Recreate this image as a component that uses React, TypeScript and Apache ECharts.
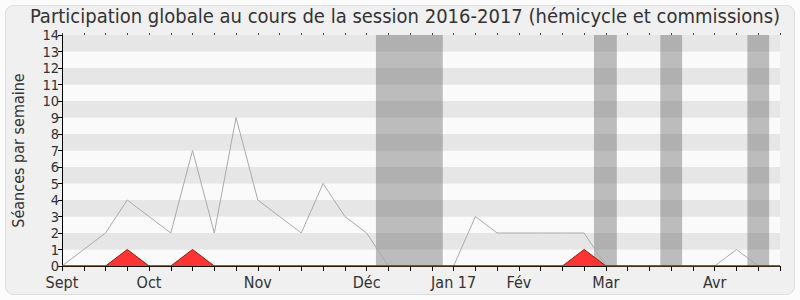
import React, { useEffect, useRef } from "react";
import * as echarts from "echarts";

const weeks: number[] = Array.from({ length: 34 }, (_, i) => i);
const participation: number[] = [0, 1, 2, 4, 3, 2, 7, 2, 9, 4, 3, 2, 5, 3, 2, 0, 0, 0, 0, 3, 2, 2, 2, 2, 2, 0, 0, 0, 0, 0, 0, 1, 0, 0];
const presenceRed: number[] = [0, 0, 0, 1, 0, 0, 1, 0, 0, 0, 0, 0, 0, 0, 0, 0, 0, 0, 0, 0, 0, 0, 0, 0, 1, 0, 0, 0, 0, 0, 0, 0, 0, 0];
const presenceGreen: number[] = weeks.map(() => 0);
const monthLabels: Record<number, string> = { 0: "Sept", 4: "Oct", 9: "Nov", 14: "Déc", 18: "Jan 17", 21: "Fév", 25: "Mar", 30: "Avr" };
const vacations: [number, number][] = [[14.43, 17.5], [24.45, 25.5], [27.5, 28.5], [31.5, 32.5]];
const yTicks: number[] = [0, 14];

const FONT = "'DejaVu Sans Condensed', 'DejaVu Sans', sans-serif";

export default function App() {
  const ref = useRef<HTMLDivElement>(null);
  useEffect(() => {
    if (!ref.current) return;
    const chart = echarts.init(ref.current, undefined, { renderer: "svg" });
    const pairs = (arr: number[]) => weeks.map((w, i) => [w, arr[i]]);
    chart.setOption({
      animation: false,
      backgroundColor: "#fcfcfc",
      graphic: [
        {
          type: "rect",
          z: -10,
          shape: { x: 5.5, y: 5.5, width: 789, height: 289, r: 8 },
          style: { fill: "#f0f0f0", stroke: "#dedede", lineWidth: 1 },
          silent: true,
        },
      ],
      title: {
        text: "Participation globale au cours de la session 2016-2017 (hémicycle et commissions)",
        left: 405,
        textAlign: "center",
        top: 6,
        padding: 0,
        textStyle: { fontFamily: FONT, fontSize: 20, lineHeight: 20, fontWeight: "normal", color: "#333" },
      },
      grid: { left: 62, right: 20, top: 35, bottom: 34 },
      xAxis: [
        {
          type: "value",
          min: 0,
          max: 33,
          interval: 1,
          axisLine: { show: true, lineStyle: { color: "#000", width: 1 } },
          axisTick: { show: true, length: 5, lineStyle: { color: "#000" } },
          splitLine: { show: false },
          axisLabel: {
            show: true,
            margin: 8,
            hideOverlap: false,
            fontFamily: FONT,
            fontSize: 16,
            lineHeight: 16,
            color: "#333",
            formatter: (v: number) => monthLabels[v] ?? "",
          },
        },
        {
          type: "value",
          position: "top",
          min: 0,
          max: 33,
          interval: 1,
          axisLine: { show: false },
          axisTick: { show: true, length: 2, lineStyle: { color: "#444" } },
          axisLabel: { show: false },
          splitLine: { show: false },
        },
      ],
      yAxis: {
        type: "value",
        min: yTicks[0],
        max: yTicks[1],
        interval: 1,
        name: "Séances par semaine",
        nameLocation: "middle",
        nameGap: 36,
        nameTextStyle: { fontFamily: FONT, fontSize: 16, color: "#333" },
        axisLine: { show: true, lineStyle: { color: "#000", width: 1 } },
        axisTick: { show: true, length: 4, lineStyle: { color: "#000" } },
        axisLabel: { fontFamily: FONT, fontSize: 14.5, lineHeight: 14, color: "#333", margin: 3 },
        splitLine: { show: false },
        splitArea: { show: true, areaStyle: { color: ["#fafafa", "#e6e6e6"] } },
      },
      series: [
        {
          type: "line",
          data: pairs(participation),
          symbol: "none",
          lineStyle: { color: "#aaaaaa", width: 1 },
          z: 3,
          markArea: {
            silent: true,
            itemStyle: { color: "rgba(95,95,95,0.4)" },
            data: vacations.map(([a, b]) => [{ xAxis: a }, { xAxis: b }]),
          },
        },
        {
          type: "line",
          data: pairs(presenceGreen),
          symbol: "none",
          lineStyle: { color: "#006400", width: 1 },
          z: 4,
        },
        {
          type: "line",
          data: pairs(presenceRed),
          symbol: "none",
          lineStyle: { color: "#9b1c00", width: 1 },
          areaStyle: { color: "#ff3333", opacity: 1 },
          z: 5,
        },
      ],
    });
    return () => chart.dispose();
  }, []);
  return (
    <div
      ref={ref}
      style={{ position: "fixed", left: 0, top: 0, width: 800, height: 300 }}
    />
  );
}
